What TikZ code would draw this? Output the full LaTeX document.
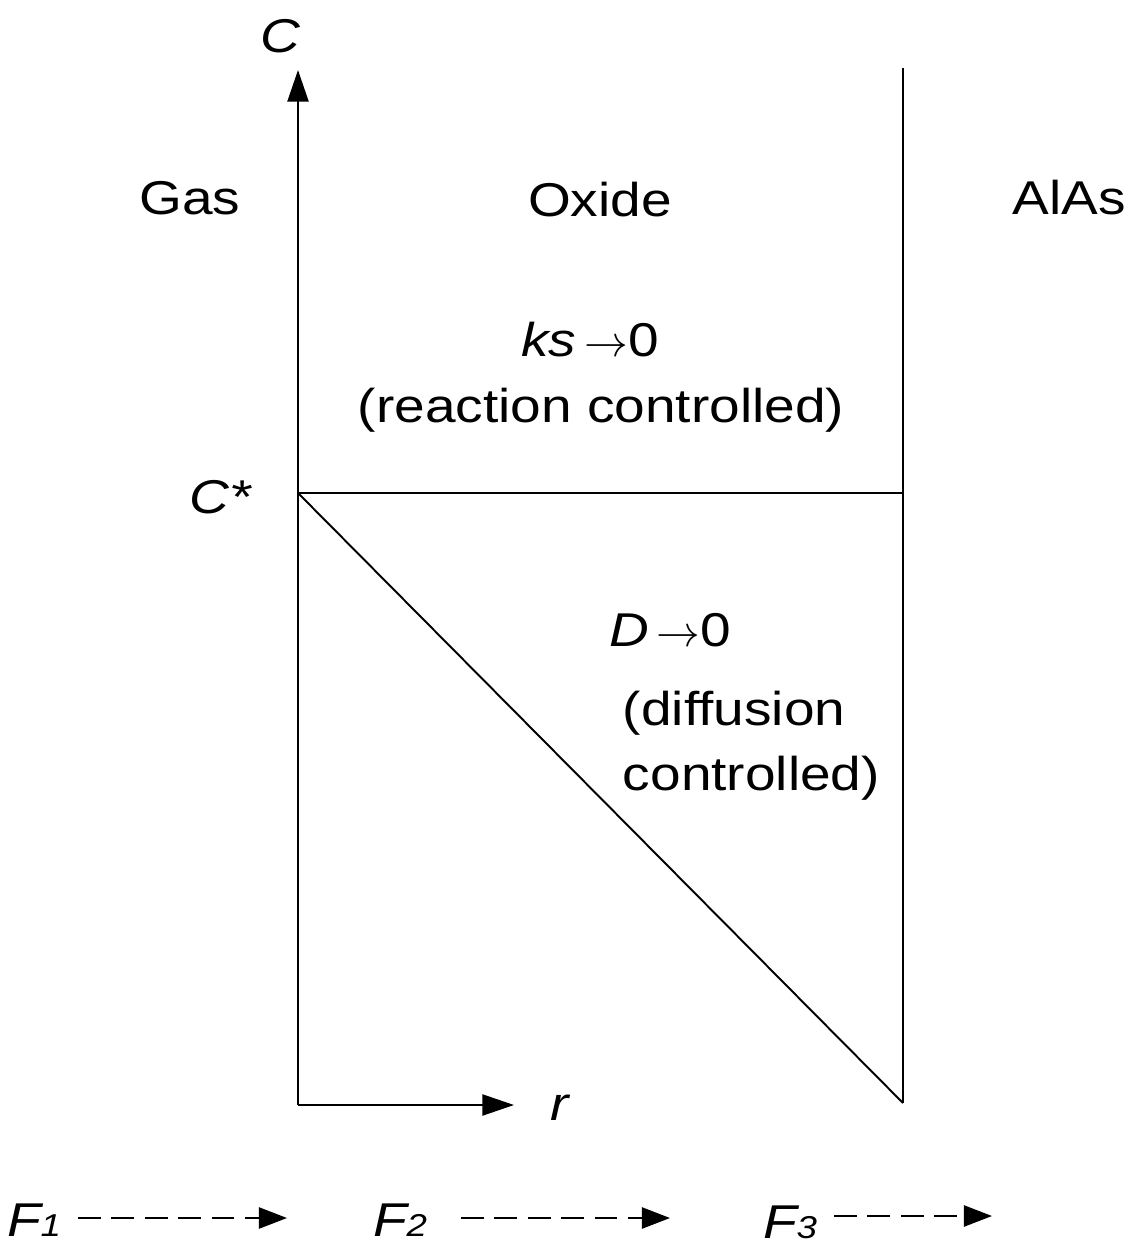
\documentclass[tikz,border=0pt]{standalone}
\usepackage{fontspec}
\setmainfont{Liberation Sans}[FakeStretch=1.16]
\usetikzlibrary{arrows.meta}
\begin{document}
\begin{tikzpicture}[x=0.02cm,y=-0.02cm,
  line width=1.1pt,
  lbl/.style={font=\fontsize{27}{33}\selectfont, inner sep=0pt},
  tip/.style={-{Triangle[length=18pt,width=12pt]}},
  dashtip/.style={line width=1.3pt, dash pattern=on 13pt off 6pt, -{Triangle[length=16pt,width=12pt]}}]
\useasboundingbox (0,0) rectangle (1142,1250);
% axes and boundaries
\coordinate (O) at (298,1105);
\coordinate (Ctop) at (298,70);
\coordinate (Rend) at (514,1105);
\coordinate (Cs) at (298,493);
\coordinate (Rtop) at (903,68);
\coordinate (Rmid) at (903,493);
\coordinate (Rbot) at (903,1103);
\draw[tip] (O) -- (Ctop);
\draw[tip] (O) -- (Rend);
\draw (Rtop) -- (Rbot);
\draw (Cs) -- (Rmid);
\draw (Cs) -- (Rbot);
% labels
\node[lbl] (cl) at (280,36) {\itshape C};
\node[lbl] (rl) at (560,1108) {\itshape r};
\node[lbl] (cs) at (220,497) {\itshape C*};
\node[lbl] (gas) at (190,198) {Gas};
\node[lbl] (oxide) at (600,200) {Oxide};
\node[lbl] (alas) at (1069,198) {AlAs};
\node[lbl] (ks) at (590,340) {\itshape ks\,$\rightarrow$\upshape 0};
\node[lbl] (rc) at (601,410) {(reaction controlled)};
\node[lbl] (d0) at (670,630) {\itshape D\,$\rightarrow$\upshape 0};
\node[lbl, align=left, anchor=north west] (dc) at (622,690) {(diffusion\\[4pt]controlled)};
% fluxes
\node[lbl, anchor=east] (f1) at (62,1220) {\itshape F\fontsize{18}{20}\selectfont 1};
\node[lbl, anchor=east] (f2) at (428,1220) {\itshape F\fontsize{18}{20}\selectfont 2};
\node[lbl, anchor=east] (f3) at (818,1222) {\itshape F\fontsize{18}{20}\selectfont 3};
\coordinate (a1s) at (78,1218); \coordinate (a1e) at (287,1218);
\coordinate (a2s) at (461,1218); \coordinate (a2e) at (670,1218);
\coordinate (a3s) at (834,1216); \coordinate (a3e) at (992,1216);
\draw[dashtip] (a1s) -- (a1e);
\draw[dashtip] (a2s) -- (a2e);
\draw[dashtip] (a3s) -- (a3e);
\end{tikzpicture}
\end{document}
